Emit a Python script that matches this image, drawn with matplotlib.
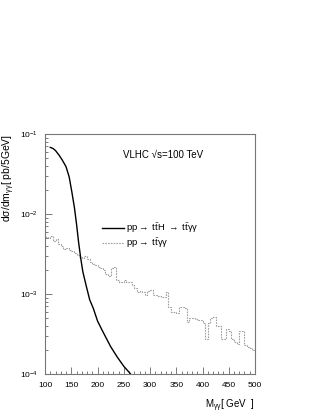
import numpy as np
import matplotlib
matplotlib.use("Agg")
import matplotlib.pyplot as plt
from matplotlib.ticker import LogLocator, MultipleLocator, NullFormatter

plt.rcParams['font.family'] = ['Liberation Sans', 'DejaVu Sans']
plt.rcParams['mathtext.fontset'] = 'custom'
plt.rcParams['mathtext.rm'] = 'Liberation Sans'
plt.rcParams['mathtext.it'] = 'Liberation Sans:italic'
plt.rcParams['mathtext.default'] = 'regular'

# signal: pp -> ttH -> tt gamma gamma (smooth curve)
mgg_sig = [110, 115, 120, 127, 133, 140, 146, 151, 156, 160, 164, 168,
           172, 178, 185, 192, 200, 210, 225, 237, 250, 262, 270]
sig = [0.068, 0.066, 0.062, 0.054, 0.047, 0.039, 0.029, 0.019, 0.012,
       0.0075, 0.0044, 0.0028, 0.0019, 0.0013, 0.00085, 0.00066, 0.00046,
       0.00034, 0.00022, 0.000165, 0.000125, 0.000102, 0.000085]

# background: pp -> tt gamma gamma, 5 GeV bins from 100 to 500
bin_edges = list(range(100, 505, 5))
bkg = [0.0052, 0.0050, 0.0053, 0.0046, 0.0049, 0.0042, 0.0040, 0.0037,
       0.0038, 0.0035, 0.0034, 0.0033, 0.0031, 0.0029, 0.0028, 0.0030,
       0.0027, 0.0025, 0.0024, 0.0023, 0.0022, 0.0021, 0.0020, 0.0018,
       0.0017, 0.0021, 0.0022, 0.0015, 0.0014, 0.0014, 0.0015, 0.0014,
       0.0014, 0.0013, 0.0012, 0.00105, 0.00110, 0.00105, 0.00098, 0.00110,
       0.00112, 0.00097, 0.00096, 0.00094, 0.00092, 0.00093, 0.00105, 0.00068,
       0.00060, 0.00059, 0.00058, 0.00068, 0.00068, 0.00067, 0.00045, 0.00050,
       0.00050, 0.00049, 0.00047, 0.00047, 0.00044, 0.00027, 0.00044, 0.00050,
       0.00052, 0.00040, 0.00040, 0.00027, 0.00027, 0.00037, 0.00034, 0.00027,
       0.00025, 0.00024, 0.00034, 0.00034, 0.00023, 0.00022, 0.00021, 0.00020]

fig = plt.figure(figsize=(3.24, 4.2), dpi=100)
ax = fig.add_axes([0.139, 0.1095, 0.648, 0.5715])

ax.plot(mgg_sig, sig, color='black', lw=1.0,
        label=r'pp$\rightarrow$ t$\bar{\rm t}$H $\rightarrow$ t$\bar{\rm t}\gamma\gamma$')
ax.stairs(bkg, bin_edges, color='#a0a0a0', lw=0.8, linestyle=(0, (1.5, 1)),
          baseline=None, label=r'pp$\rightarrow$ t$\bar{\rm t}\gamma\gamma$')

ax.set_yscale('log')
ax.set_xlim(100, 500)
ax.set_ylim(1e-4, 1e-1)

ax.xaxis.set_major_locator(MultipleLocator(50))
ax.xaxis.set_minor_locator(MultipleLocator(10))
ax.yaxis.set_major_locator(LogLocator(base=10))
ax.yaxis.set_minor_locator(LogLocator(base=10, subs=np.arange(2, 10)))
ax.yaxis.set_minor_formatter(NullFormatter())

ax.tick_params(which='both', direction='in', top=False, right=False,
               labelsize=6, color='#666666')
ax.tick_params(which='major', length=5, width=0.6)
ax.tick_params(which='minor', length=2.5, width=0.6)
ax.tick_params(axis='x', pad=6)
ax.tick_params(axis='y', pad=5)
for sp in ax.spines.values():
    sp.set_color('#777777')
    sp.set_linewidth(0.8)

ax.set_xlabel(r'M$_{\gamma\gamma}$[ GeV  ]', fontsize=7, loc='right', labelpad=6)
ax.set_ylabel(r'd$\sigma$/dm$_{\gamma\gamma}$[ pb/5GeV]', fontsize=7.5, loc='top')
ax.yaxis.set_label_coords(-0.135, 1.0)

ax.text(0.372, 0.912, 'VLHC \u221as=100 TeV', transform=ax.transAxes,
        fontsize=7, va='center', ha='left')

ax.legend(loc='upper left', bbox_to_anchor=(0.23, 0.672), frameon=False,
          fontsize=6.8, handlelength=2.3, handletextpad=0.25, labelspacing=0.15)

fig.savefig('out.png', dpi=100)
